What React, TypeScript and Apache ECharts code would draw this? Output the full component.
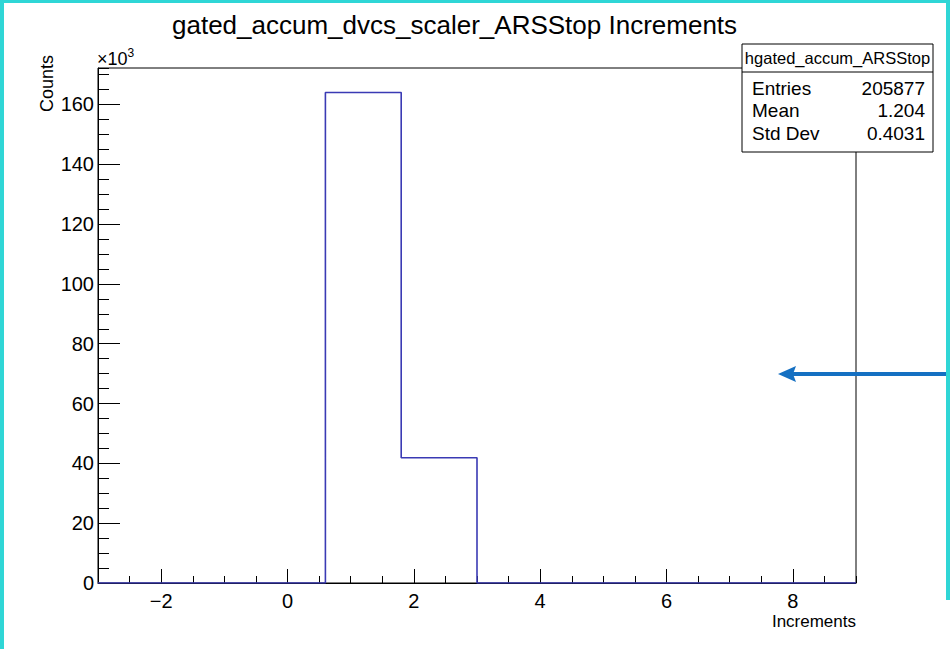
import React, { useEffect, useRef } from "react";
import * as echarts from "echarts";

const titleText = "gated_accum_dvcs_scaler_ARSStop Increments";
const xTitle = "Increments";
const yTitle = "Counts";
const xMin = -3;
const xMax = 9;
const yMax = 172200;
const binLow = [-3, -1.8, -0.6, 0.6, 1.8, 3.0, 4.2, 5.4, 6.6, 7.8];
const counts = [0, 0, 0, 164000, 41877, 0, 0, 0, 0, 0];
const xMajorTicks = [-2, 0, 2, 4, 6, 8];
const yMajorTicks = [0, 20000, 40000, 60000, 80000, 100000, 120000, 140000, 160000];
const statsName = "hgated_accum_ARSStop";
const statsLabels = ["Entries", "Mean", "Std Dev"];
const statsValues = ["205877", "1.204", "0.4031"];

const FONT = "'Liberation Sans', Arial, Helvetica, sans-serif";

export default function App() {
  const ref = useRef<HTMLDivElement>(null);
  useEffect(() => {
    if (!ref.current) return;
    const chart = echarts.init(ref.current, null, { renderer: "svg" });
    const lineData: [number, number][] = binLow.map((x, i) => [x, counts[i]]);
    lineData.push([xMax, 0]);

    const L = 98, R = 856, T = 68, B = 583;
    const boxX = 742, boxY = 44, boxW = 191, boxH = 108;

    const statsTexts: any[] = [];
    statsLabels.forEach((lab, i) => {
      const y = 88 + i * 22.5;
      statsTexts.push({
        type: "text", x: boxX + 10, y, z: 20,
        style: { text: lab, font: `19px ${FONT}`, fill: "#000", textVerticalAlign: "middle", textAlign: "left" },
      });
      statsTexts.push({
        type: "text", x: boxX + boxW - 8, y, z: 20,
        style: { text: statsValues[i], font: `19px ${FONT}`, fill: "#000", textVerticalAlign: "middle", textAlign: "right" },
      });
    });

    const axisCommon = {
      type: "value" as const,
      splitLine: { show: false },
    };

    chart.setOption({
      animation: false,
      backgroundColor: "#fff",
      title: {
        text: titleText,
        left: 167,
        top: 7,
        textStyle: { fontFamily: FONT, fontSize: 26, fontWeight: "normal", color: "#000" },
      },
      grid: {
        left: L, right: 950 - R, top: T, bottom: 649 - B,
        show: true, borderColor: "#000", borderWidth: 1, backgroundColor: "transparent",
      },
      xAxis: [
        {
          ...axisCommon,
          min: xMin, max: xMax, position: "bottom",
          axisLine: { show: true, onZero: false, lineStyle: { color: "#000", width: 1 } },
          axisTick: { show: true, inside: true, length: 14, customValues: xMajorTicks, lineStyle: { color: "#000" } },
          axisLabel: {
            show: true, customValues: xMajorTicks, margin: 8, color: "#000",
            fontFamily: FONT, fontSize: 20,
            formatter: (v: number) => (v < 0 ? "\u2212" + Math.abs(v) : String(v)),
          },
        },
        {
          ...axisCommon,
          min: xMin, max: xMax, interval: 0.5, position: "bottom",
          axisLine: { show: false, onZero: false },
          axisTick: { show: true, inside: true, length: 7, lineStyle: { color: "#000" } },
          axisLabel: { show: false },
        },
      ],
      yAxis: [
        {
          ...axisCommon,
          min: 0, max: yMax, position: "left",
          axisLine: { show: true, onZero: false, lineStyle: { color: "#000", width: 1 } },
          axisTick: { show: true, inside: true, length: 22, customValues: yMajorTicks, lineStyle: { color: "#000" } },
          axisLabel: {
            show: true, customValues: yMajorTicks, margin: 4, color: "#000",
            fontFamily: FONT, fontSize: 20,
            formatter: (v: number) => String(Math.round(v / 1000)),
          },
        },
        {
          ...axisCommon,
          min: 0, max: yMax, interval: 5000, position: "left",
          axisLine: { show: false, onZero: false },
          axisTick: { show: true, inside: true, length: 11, lineStyle: { color: "#000" } },
          axisLabel: { show: false },
        },
      ],
      series: [
        {
          type: "line",
          xAxisIndex: 0, yAxisIndex: 0,
          data: lineData,
          step: "end",
          symbol: "none",
          lineStyle: { color: "#3a3ab4", width: 1.6 },
          z: 3,
        },
      ],
      graphic: [
        { type: "rect", shape: { x: 0, y: 0, width: 4, height: 649 }, style: { fill: "#2fd6d6" }, z: 50 },
        { type: "rect", shape: { x: 0, y: 0, width: 950, height: 3 }, style: { fill: "#2fd6d6" }, z: 50 },
        { type: "rect", shape: { x: 946, y: 0, width: 4, height: 600 }, style: { fill: "#2fd6d6" }, z: 50 },
        {
          type: "text", x: L - 1, y: 59, z: 20,
          style: {
            text: "{a|\u00d710}{b|3}", textVerticalAlign: "middle",
            rich: {
              a: { fontFamily: FONT, fontSize: 18, fill: "#000", color: "#000" },
              b: { fontFamily: FONT, fontSize: 12, fill: "#000", color: "#000", verticalAlign: "top", padding: [0, 0, 12, 0] },
            },
          },
        },
        {
          type: "text", x: 47, y: 55, rotation: Math.PI / 2, z: 20,
          style: { text: yTitle, font: `18px ${FONT}`, fill: "#000", textAlign: "right", textVerticalAlign: "middle" },
        },
        {
          type: "text", x: R, y: 621, z: 20,
          style: { text: xTitle, font: `17px ${FONT}`, fill: "#000", textAlign: "right", textVerticalAlign: "middle" },
        },
        {
          type: "rect", z: 19,
          shape: { x: boxX, y: boxY, width: boxW, height: boxH },
          style: { fill: "#fff", stroke: "#000", lineWidth: 1 },
        },
        {
          type: "line", z: 20,
          shape: { x1: boxX, y1: 72, x2: boxX + boxW, y2: 72 },
          style: { stroke: "#000", lineWidth: 1 },
        },
        {
          type: "text", x: boxX + boxW / 2, y: 58, z: 20,
          style: { text: statsName, font: `16.5px ${FONT}`, fill: "#000", textAlign: "center", textVerticalAlign: "middle" },
        },
        ...statsTexts,
        {
          type: "line", z: 30,
          shape: { x1: 950, y1: 374, x2: 792, y2: 374 },
          style: { stroke: "#1570c2", lineWidth: 4 },
        },
        {
          type: "polygon", z: 30,
          shape: { points: [[778, 374], [796, 366], [793, 374], [796, 382]] },
          style: { fill: "#1570c2" },
        },
      ],
    });
    return () => chart.dispose();
  }, []);
  return (
    <div
      ref={ref}
      style={{ position: "fixed", left: 0, top: 0, width: 950, height: 649, background: "#fff" }}
    />
  );
}
